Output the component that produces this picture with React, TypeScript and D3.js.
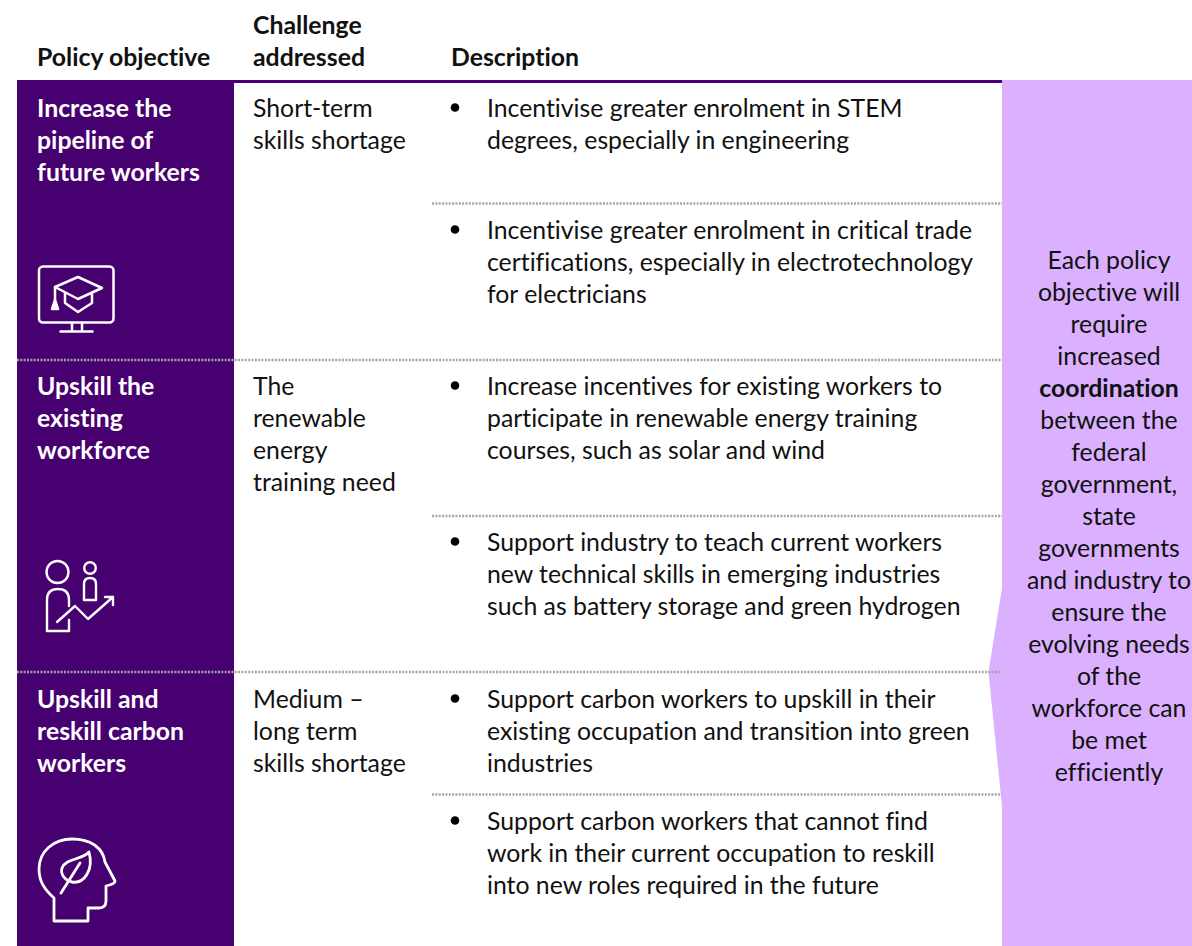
import React from "react";
import * as d3 from "d3";

const headers = [
  { lines: ["Policy objective"], col: 0 },
  { lines: ["Challenge", "addressed"], col: 1 },
  { lines: ["Description"], col: 2 },
];
const objectives = [
  ["Increase the", "pipeline of", "future workers"],
  ["Upskill the", "existing", "workforce"],
  ["Upskill and", "reskill carbon", "workers"],
];
const challenges = [
  ["Short-term", "skills shortage"],
  ["The", "renewable", "energy", "training need"],
  ["Medium –", "long term", "skills shortage"],
];
const descriptions = [
  [
    ["Incentivise greater enrolment in STEM", "degrees, especially in engineering"],
    ["Incentivise greater enrolment in critical trade", "certifications, especially in electrotechnology", "for electricians"],
  ],
  [
    ["Increase incentives for existing workers to", "participate in renewable energy training", "courses, such as solar and wind"],
    ["Support industry to teach current workers", "new technical skills in emerging industries", "such as battery storage and green hydrogen"],
  ],
  [
    ["Support carbon workers to upskill in their", "existing occupation and transition into green", "industries"],
    ["Support carbon workers that cannot find", "work in their current occupation to reskill", "into new roles required in the future"],
  ],
];
const sideLines: [string, boolean][] = [
  ["Each policy", false], ["objective will", false], ["require", false], ["increased", false],
  ["coordination", true], ["between the", false], ["federal", false], ["government,", false],
  ["state", false], ["governments", false], ["and industry to", false], ["ensure the", false],
  ["evolving needs", false], ["of the", false], ["workforce can", false], ["be met", false], ["efficiently", false],
];
const rowLines = [360, 672];
const subLines = [203.5, 516, 794.5];
const rowBaselines = [117, 395, 708];
const subBaselines = [117, 239, 395, 551, 708, 830];

const PURPLE = "#470070";
const LILAC = "#dab0ff";
const DOT = "#a6a6a6";
const FONT = "Lato, Carlito, sans-serif";
const LH = 32;

const colX = d3.scaleOrdinal<number, number>().domain([0, 1, 2]).range([37, 253, 451]);
const lineY = (top: number, i: number) => top + i * LH;

function Monitor() {
  return (
    <g fill="none" stroke="#fff" strokeWidth={2.5} strokeLinecap="round" strokeLinejoin="round">
      <rect x={39} y={266.500} width={74.500} height={56} rx={4} />
      <path d="M72 323v8M82 323v8M60.500 331.500h32" />
      <path d="M55 287 L78 277 L102 288 L78 299 Z" />
      <path d="M65 293 V303 L78 312 L92 303 V293" />
      <path d="M55 287 V300" />
      <path d="M55 300 L52 309 H58 Z" fill="#fff" />
    </g>
  );
}
function People() {
  return (
    <g fill="none" stroke="#fff" strokeWidth={2.4} strokeLinecap="round" strokeLinejoin="round">
      <circle cx={57.500} cy={572} r={11} />
      <circle cx={90} cy={568} r={5.800} />
      <path d="M84 600 V584 Q84 578 90 578 Q96 578 96 584 V600 Z" />
      <path d="M69 606 V600 Q69 589 58 589 Q47 589 47 600 V631 H69 V620" />
      <path d="M57 622 L75 606 L88 619 L113 597 M105 597 H113 V605" />
    </g>
  );
}
function Head() {
  return (
    <g fill="none" stroke="#fff" strokeWidth={2.8} strokeLinecap="round" strokeLinejoin="round">
      <path d="M54 921 V898 C44 889 39 881 39 869 C39 851 54 839 72 839 C91 839 103 848 105 862 L115 881 Q115 884 106 886 V901 Q106 908 99 908 H88 V921 Z" />
      <path d="M89 852 C82 860 66 858 62 868 C60 875 66 881 72 882 C84 884 94 870 89 852 Z" />
      <path d="M61 893 L80 863" />
    </g>
  );
}

export default function App() {
  const panel = d3.line()([[1002, 80], [1002, 588], [988.5, 672], [1002, 806], [1002, 946], [1192, 946], [1192, 80]] as [number, number][]) + "Z";
  const dotted = (x1: number, x2: number, y: number) => (
    <line key={`${x1}-${y}`} x1={x1} x2={x2} y1={y} y2={y} stroke={DOT} strokeWidth={2.5} strokeDasharray="2 1.350" />
  );
  const regular = 24.800;
  const bold = 24.800;
  return (
    <svg width={1192} height={946} style={{ position: "absolute", left: 0, top: 0, background: "#fff", fontVariantLigatures: "none" }} fontFamily={FONT} fontSize={regular} fill="#111">
      <rect x={17} y={80} width={985} height={3} fill={PURPLE} />
      <rect x={17} y={80} width={217} height={866} fill={PURPLE} />
      <path d={panel} fill={LILAC} />

      {headers.map((h) =>
        h.lines.map((t, i) => (
          <text key={t} x={colX(h.col)} y={66 - (h.lines.length - 1 - i) * LH} fontWeight={700} fontSize={bold}>{t}</text>
        ))
      )}

      {objectives.map((o, r) =>
        o.map((t, i) => (
          <text key={t} x={37} y={lineY(rowBaselines[r], i)} fontWeight={700} fontSize={bold} fill="#fff">{t}</text>
        ))
      )}
      {challenges.map((c, r) =>
        c.map((t, i) => (
          <text key={t + r} x={253} y={lineY(rowBaselines[r], i)}>{t}</text>
        ))
      )}
      {descriptions.flat().map((d, k) => (
        <g key={k}>
          <circle cx={455} cy={subBaselines[k] - 9.500} r={4.300} fill="#000" />
          {d.map((t, i) => (
            <text key={t} x={487} y={lineY(subBaselines[k], i)}>{t}</text>
          ))}
        </g>
      ))}

      {rowLines.map((y) => dotted(17, 1002, y))}
      {subLines.map((y) => dotted(432, 1002, y))}

      {sideLines.map(([t, b], i) => (
        <text key={t} x={1109} y={lineY(269, i)} textAnchor="middle" fontWeight={b ? 700 : 400}>{t}</text>
      ))}

      <Monitor />
      <People />
      <Head />
    </svg>
  );
}
